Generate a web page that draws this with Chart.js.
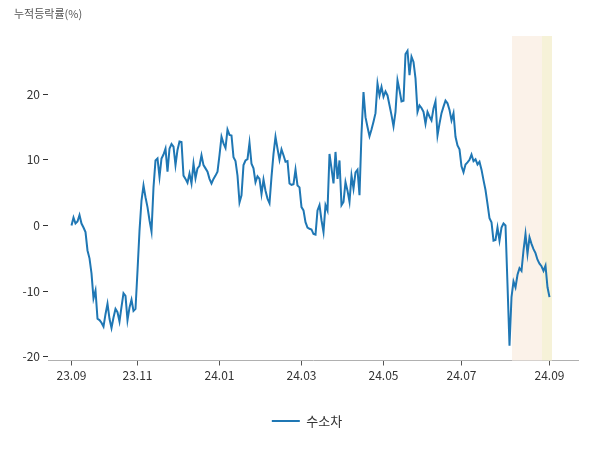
<!DOCTYPE html>
<html>
<head>
<meta charset="utf-8">
<script src="https://cdn.jsdelivr.net/npm/chart.js@4.4.1/dist/chart.umd.min.js"></script>
<style>
  html, body { margin: 0; padding: 0; background: #fff; }
</style>
</head>
<body>
<canvas id="chart" width="600" height="450"></canvas>
<script>
// 누적등락률 (%), one value per trading day, 23.09 ~ 24.09
const seriesName = '수소차';
const values = [
  0.0, 1.2, 0.3, 0.6, 1.6, 0.3, -0.3, -1.0, -3.8, -5.0,
  -7.3, -11.1, -9.9, -14.2, -14.4, -14.8, -15.4, -13.5, -11.9, -14.2,
  -15.6, -14.0, -12.7, -13.2, -14.6, -12.4, -10.3, -10.7, -14.4, -12.5,
  -11.3, -13.0, -12.7, -6.9, -0.8, 3.8, 6.1, 4.3, 2.8, 0.8,
  -0.9, 5.8, 9.9, 10.2, 7.4, 10.2, 10.8, 11.7, 8.2, 11.7,
  12.4, 12.0, 9.2, 11.5, 12.8, 12.7, 7.6, 7.1, 6.5, 7.9,
  6.4, 9.4, 7.2, 8.7, 9.1, 10.7, 9.2, 8.7, 8.2, 7.1,
  6.4, 7.1, 7.6, 8.2, 10.7, 13.5, 12.5, 11.8, 14.6, 13.8,
  13.7, 10.4, 9.8, 7.6, 3.5, 4.6, 9.2, 9.9, 10.1, 12.6,
  9.4, 8.7, 6.6, 7.5, 7.1, 4.8, 7.0, 5.3, 4.1, 3.4,
  7.4, 10.9, 13.5, 11.7, 10.0, 11.6, 10.7, 9.7, 9.8, 6.4,
  6.2, 6.3, 8.5, 6.1, 5.8, 2.8, 2.3, 0.5, -0.3, -0.5,
  -0.6, -1.3, -1.4, 2.3, 3.1, 0.8, -1.0, 3.1, 2.3, 10.9,
  8.7, 6.4, 11.2, 7.1, 9.9, 3.1, 3.6, 6.6, 5.3, 3.6,
  7.6, 5.6, 8.1, 8.5, 4.6, 14.0, 20.3, 16.5, 15.0, 13.6,
  14.6, 15.8, 17.1, 21.6, 19.8, 21.1, 19.6, 20.4, 19.8, 18.3,
  16.8, 15.1, 17.3, 22.1, 20.6, 18.9, 19.0, 26.1, 26.6, 22.9,
  25.7, 24.9, 22.4, 17.3, 18.3, 17.9, 17.3, 15.5, 17.3, 16.6,
  16.0, 17.8, 18.9, 13.7, 15.5, 17.1, 18.1, 19.0, 18.6, 17.6,
  16.0, 17.1, 13.5, 12.2, 11.6, 9.0, 8.1, 9.3, 9.6, 10.0,
  10.8, 9.8, 10.1, 9.3, 9.7, 8.5, 6.9, 5.4, 3.3, 1.1,
  0.5, -2.3, -2.2, -0.3, -2.3, -0.3, 0.3, 0.0, -9.0, -18.3,
  -10.9, -8.5, -9.4, -7.5, -6.5, -6.9, -3.8, -1.3, -4.3, -1.8,
  -2.8, -3.6, -4.2, -5.2, -5.8, -6.2, -6.9, -6.1, -9.4, -10.9
];
const xTickIdx = [0, 33, 74, 115, 156, 195, 239];
const xTickLabels = ['23.09', '23.11', '24.01', '24.03', '24.05', '24.07', '24.09'];
const yTicks = [-20, -10, 0, 10, 20];
// highlighted periods (in trading-day index)
const bandFrom = [220.25, 235.25];
const bandTo = [235.25, 240.25];

const bandColors = ['#FBF2E9', '#F6F2D8'];
const font = "'Noto Sans CJK KR', 'Noto Sans', sans-serif";

const bandPlugin = {
    id: 'bands',
    beforeDatasetsDraw(chart) {
        const { ctx, chartArea, scales } = chart;
        ctx.save();
        bandFrom.forEach((from, i) => {
            const x1 = scales.x.getPixelForValue(from);
            const x2 = scales.x.getPixelForValue(bandTo[i]);
            ctx.fillStyle = bandColors[i];
            ctx.fillRect(x1, chartArea.top, x2 - x1, chartArea.bottom - chartArea.top);
        });
        ctx.restore();
    }
};

new Chart(document.getElementById('chart'), {
    type: 'line',
    data: {
        datasets: [{
            label: seriesName,
            data: values.map((v, i) => ({ x: i, y: v })),
            borderColor: '#1f77b4',
            backgroundColor: '#1f77b4',
            borderWidth: 2,
            pointRadius: 0,
            tension: 0
        }]
    },
    options: {
        responsive: false,
        animation: false,
        layout: { padding: { left: 14, right: 0, top: 0, bottom: 12.5 } },
        plugins: {
            title: {
                display: true,
                text: '누적등락률(%)',
                align: 'start',
                color: '#555',
                font: { family: font, size: 11, weight: 'normal' },
                padding: { top: 7, bottom: 15.8 }
            },
            legend: {
                position: 'bottom',
                labels: {
                    usePointStyle: true,
                    pointStyle: 'line',
                    pointStyleWidth: 28,
                    color: '#333',
                    padding: 10,
                    font: { family: font, size: 13 }
                }
            },
            tooltip: { enabled: false }
        },
        scales: {
            x: {
                type: 'linear',
                min: -11.75,
                max: 253.25,
                afterBuildTicks: (scale) => { scale.ticks = xTickIdx.map(v => ({ value: v })); },
                afterFit: (scale) => { scale.height = 44; },
                ticks: {
                    callback: (v) => xTickLabels[xTickIdx.indexOf(v)],
                    color: '#333',
                    font: { family: font, size: 12 },
                    padding: 3,
                    maxRotation: 0
                },
                grid: { drawOnChartArea: false, drawTicks: true, tickLength: 5, color: '#555' },
                border: { display: true, color: '#b0b0b0', width: 1 }
            },
            y: {
                min: -20.55,
                max: 28.85,
                afterBuildTicks: (scale) => { scale.ticks = yTicks.map(v => ({ value: v })); },
                afterFit: (scale) => { scale.width = 34; },
                ticks: {
                    color: '#333',
                    font: { family: font, size: 12 },
                    padding: 3
                },
                grid: { drawOnChartArea: false, drawTicks: true, tickLength: 5, color: '#333' },
                border: { display: false }
            },
            yRight: {
                position: 'right',
                display: true,
                afterFit: (scale) => { scale.width = 22; },
                ticks: { display: false },
                grid: { display: false },
                border: { display: false }
            }
        }
    },
    plugins: [bandPlugin]
});
</script>
</body>
</html>
